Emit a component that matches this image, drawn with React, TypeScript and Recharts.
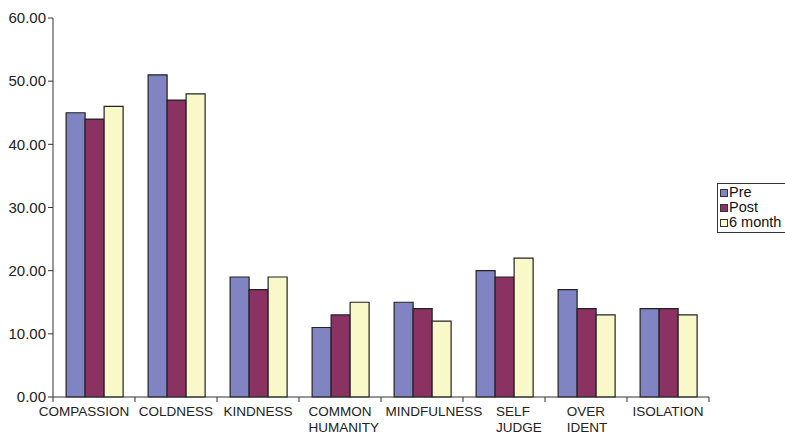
import React from "react";
import { BarChart, Bar, XAxis, YAxis } from "recharts";

// scores per scale
const categories = [
  "COMPASSION",
  "COLDNESS",
  "KINDNESS",
  "COMMON HUMANITY",
  "MINDFULNESS",
  "SELF JUDGE",
  "OVER IDENT",
  "ISOLATION",
];
const pre = [45, 51, 19, 11, 15, 20, 17, 14];
const post = [44, 47, 17, 13, 14, 19, 14, 14];
const sixMonth = [46, 48, 19, 15, 12, 22, 13, 13];
const yTicks = [0, 10, 20, 30, 40, 50, 60];

const series = [
  { key: "pre", name: "Pre", color: "#8084c2" },
  { key: "post", name: "Post", color: "#8a3262" },
  { key: "six", name: "6 month", color: "#f8f8c8" },
];

const data = categories.map((c, i) => ({
  name: c,
  pre: pre[i],
  post: post[i],
  six: sixMonth[i],
}));

const FONT = "'Liberation Sans', Arial, sans-serif";
const W = 785;
const H = 434;
const LEFT = 53;
const RIGHT = 76;
const BAND = (W - LEFT - RIGHT) / categories.length;
// the original's labels don't sit exactly centred; small horizontal nudges
const labelNudge = [-10, 0, 0, 0, 12, 9, 0, 0];

let ctx: CanvasRenderingContext2D | null = null;
const textWidth = (s: string, size: number) => {
  if (!ctx) ctx = document.createElement("canvas").getContext("2d");
  if (!ctx) return s.length * size * 0.6;
  ctx.font = `${size}px ${FONT}`;
  return ctx.measureText(s).width;
};

const CategoryTick = (props: any) => {
  const { x, y, payload, index } = props;
  const lines = String(payload.value).split(" ");
  const size = 13.5;
  const start = x - textWidth(lines[0], size) / 2 + (labelNudge[index] || 0);
  return (
    <g>
      <line x1={x - BAND / 2} x2={x - BAND / 2} y1={y} y2={y + 5} stroke="#333" />
      {index === categories.length - 1 && (
        <line x1={x + BAND / 2} x2={x + BAND / 2} y1={y} y2={y + 5} stroke="#333" />
      )}
      {lines.map((l, i) => (
        <text
          key={i}
          x={start}
          y={y + 19 + i * 16}
          textAnchor="start"
          fontSize={size}
          fontFamily={FONT}
          fill="#222"
        >
          {l}
        </text>
      ))}
    </g>
  );
};

const LegendBox = () => (
  <div
    style={{
      position: "absolute",
      left: 717,
      top: 183,
      width: 84,
      border: "1px solid #333",
      background: "#fff",
      padding: "1px 0 2px 2px",
      fontFamily: FONT,
      fontSize: 14.5,
      lineHeight: "15px",
      color: "#111",
    }}
  >
    {series.map((s) => (
      <div key={s.key} style={{ display: "flex", alignItems: "center", whiteSpace: "nowrap" }}>
        <span
          style={{
            display: "inline-block",
            width: 6,
            height: 6,
            border: "1px solid #333",
            background: s.color,
            marginRight: 1,
          }}
        />
        {s.name}
      </div>
    ))}
  </div>
);

export default function App() {
  return (
    <div style={{ position: "absolute", left: 0, top: 0, width: W, height: H, background: "#fff", overflow: "hidden" }}>
      <BarChart
        width={W}
        height={H}
        data={data}
        margin={{ top: 18, right: RIGHT, left: 0, bottom: 0 }}
        barCategoryGap="16%"
        barGap={0}
      >
        <XAxis
          dataKey="name"
          height={37}
          interval={0}
          tickLine={false}
          tickSize={0}
          tickMargin={0}
          axisLine={{ stroke: "#333" }}
          tick={<CategoryTick />}
        />
        <YAxis
          width={LEFT}
          domain={[0, 60]}
          ticks={yTicks}
          interval={0}
          tickFormatter={(v: number) => v.toFixed(2)}
          tickSize={5}
          tickMargin={2}
          axisLine={{ stroke: "#333" }}
          tickLine={{ stroke: "#333" }}
          tick={{ fill: "#222", fontSize: 15, fontFamily: FONT }}
        />
        {series.map((s) => (
          <Bar
            key={s.key}
            dataKey={s.key}
            name={s.name}
            fill={s.color}
            stroke="#222"
            strokeWidth={1.2}
            isAnimationActive={false}
          />
        ))}
      </BarChart>
      <LegendBox />
    </div>
  );
}
